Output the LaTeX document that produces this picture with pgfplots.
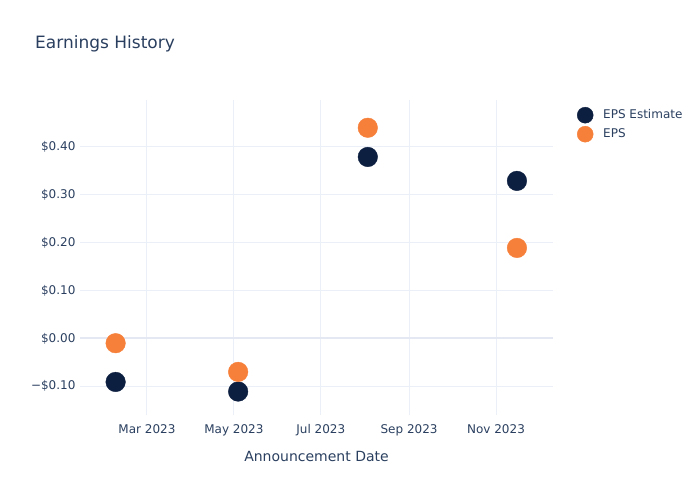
\documentclass[border=0pt]{standalone}
\usepackage{pgfplots}
\pgfplotsset{compat=1.18}
\usepackage{fontspec}
\setmainfont{DejaVu Sans}
\definecolor{txt}{HTML}{2A3F5F}
\definecolor{gridc}{HTML}{EBF0F8}
\definecolor{zeroc}{HTML}{E3E8F2}
\definecolor{navy}{HTML}{0C1F40}
\definecolor{orng}{HTML}{F6803A}
\begin{document}
\begin{tikzpicture}[x=1pt,y=1pt]
\useasboundingbox (0,0) rectangle (700,500);
\node[anchor=west,inner sep=0pt,text=txt,font=\fontsize{17}{20}\selectfont] at (35,456) {Earnings History};
\begin{axis}[
  at={(80pt,85pt)}, anchor=south west,
  scale only axis, width=473pt, height=315pt,
  xmin=12, xmax=344, ymin=-0.16, ymax=0.498,
  axis line style={draw=none},
  tick style={draw=none},
  grid=major, grid style={gridc, line width=1pt},
  xtick={59,120,181,243,304},
  xticklabels={Mar 2023,May 2023,Jul 2023,Sep 2023,Nov 2023},
  ytick={-0.1,0,0.1,0.2,0.3,0.4},
  yticklabels={−\$0.10,\$0.00,\$0.10,\$0.20,\$0.30,\$0.40},
  extra y ticks={0}, extra y tick labels={},
  extra y tick style={grid style={zeroc, line width=2pt}},
  ticklabel style={text=txt, font=\fontsize{12}{14}\selectfont},
  xticklabel style={yshift=-6pt},
  yticklabel style={xshift=-1pt},
  xlabel={Announcement Date},
  xlabel style={text=txt, font=\fontsize{14}{16}\selectfont, yshift=-8pt},
  legend image code/.code={\draw[mark size=8pt,#1] plot coordinates {(0pt,0pt)};},
  legend style={draw=none, fill=none, at={(1,1)}, anchor=north west,
    xshift=21pt, yshift=-5pt,
    font=\fontsize{12}{14}\selectfont, text=txt,
    row sep=3pt,
    nodes={inner ysep=2pt, inner xsep=10pt},
    legend cell align=left},
  clip=false,
]
\addplot[only marks, mark=*, mark size=9.8pt, navy, mark options={draw=navy, fill=navy}]
  coordinates {(37,-0.091) (123,-0.111) (214,0.379) (318.7,0.329)};
\addlegendentry{EPS Estimate}
\addplot[only marks, mark=*, mark size=9.8pt, orng, mark options={draw=orng, fill=orng}]
  coordinates {(37,-0.010) (123,-0.070) (214,0.440) (318.7,0.189)};
\addlegendentry{EPS}
\end{axis}
\end{tikzpicture}
\end{document}
